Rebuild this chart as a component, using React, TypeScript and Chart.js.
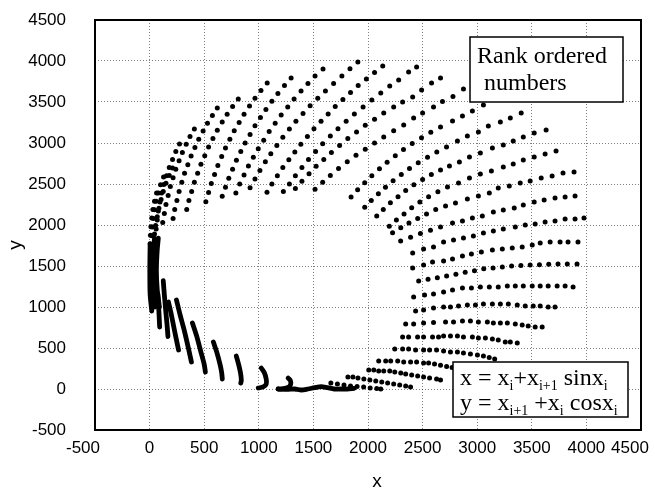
import React, { useEffect, useRef } from "react";
import { Chart, registerables } from "chart.js";
Chart.register(...registerables);

// ---- axis ticks ----
const xTickValues = [-500, 0, 500, 1000, 1500, 2000, 2500, 3000, 3500, 4000, 4500];
const yTickValues = [-500, 0, 500, 1000, 1500, 2000, 2500, 3000, 3500, 4000, 4500];

// ---- right-hand / lower rows of dots ----
const rowR1 = [[2299,1805],[2390,1850],[2480,1895],[2572,1937],[2664,1976],[2774,2024],[2865,2049],[2956,2085],[3047,2110],[3148,2159],[3239,2183],[3339,2208],[3422,2244],[3522,2280],[3613,2305],[3713,2329],[3805,2342],[3896,2354]];
const rowR2 = [[2409,1658],[2509,1707],[2600,1732],[2692,1793],[2783,1817],[2874,1841],[2965,1866],[3057,1902],[3148,1927],[3239,1951],[3349,1976],[3440,2000],[3531,2012],[3622,2037],[3713,2049],[3805,2073],[3896,2073],[3978,2085]];
const rowR3 = [[2409,1475],[2509,1512],[2591,1549],[2692,1561],[2774,1585],[2865,1622],[2947,1646],[3038,1671],[3139,1695],[3230,1707],[3321,1720],[3412,1732],[3504,1756],[3577,1780],[3668,1793],[3759,1793],[3832,1793],[3923,1793]];
const rowR4 = [[2464,1317],[2550,1338],[2635,1358],[2720,1378],[2805,1400],[2890,1425],[2975,1442],[3060,1466],[3145,1476],[3230,1488],[3315,1500],[3400,1505],[3485,1512],[3570,1515],[3655,1520],[3740,1524],[3825,1524],[3914,1524]];
const rowR5 = [[2418,1122],[2518,1146],[2600,1159],[2692,1183],[2774,1207],[2865,1232],[2947,1232],[3029,1244],[3111,1244],[3193,1244],[3276,1256],[3349,1256],[3422,1256],[3504,1256],[3577,1256],[3650,1256],[3732,1256],[3805,1256],[3878,1244]];
const rowR6 = [[2436,951],[2509,963],[2600,988],[2692,1000],[2755,1000],[2829,1012],[2910,1024],[2984,1024],[3057,1037],[3139,1037],[3212,1037],[3285,1037],[3367,1024],[3440,1012],[3513,1012],[3577,1012],[3650,1000],[3713,1000]];
const rowR7 = [[2345,793],[2418,793],[2509,805],[2600,810],[2710,817],[2783,817],[2865,829],[2938,829],[3011,817],[3093,817],[3148,805],[3212,805],[3276,805],[3349,793],[3412,780],[3467,768],[3531,756],[3595,756]];
const rowR8 = [[2317,634],[2372,634],[2454,634],[2509,634],[2591,634],[2646,634],[2692,646],[2755,646],[2819,646],[2874,634],[2956,634],[3011,622],[3075,622],[3139,610],[3193,598],[3257,573],[3303,573],[3367,561]];
const rowR9 = [[2245,488],[2317,488],[2372,488],[2436,476],[2509,476],[2564,476],[2628,476],[2692,463],[2755,451],[2819,451],[2874,439],[2938,427],[3002,415],[3057,402],[3110,385],[3160,366]];
const rowR10 = [[2098,341],[2162,341],[2208,341],[2272,341],[2327,329],[2390,329],[2445,329],[2509,317],[2555,317],[2609,305],[2664,290],[2720,275],[2770,262]];
const rowR11 = [[2007,232],[2053,232],[2098,220],[2144,220],[2199,220],[2245,207],[2300,195],[2345,183],[2400,171],[2455,159],[2509,146],[2564,134],[2628,122],[2664,110]];
const rowR12 = [[1816,146],[1862,146],[1908,134],[1962,122],[2017,110],[2071,98],[2126,85],[2180,73],[2235,61],[2290,49],[2345,37],[2390,24]];
const rowR13 = [[1660,73],[1720,61],[1780,49],[1840,37],[1900,30],[1960,24],[2020,12],[2080,5],[2117,0]];

// ---- upper fan rows ----
const rowU1 = [[2225,1905],[2300,1965],[2375,2025],[2455,2080],[2536,2134],[2620,2190],[2710,2232],[2801,2268],[2910,2317],[3011,2354],[3111,2390],[3193,2451],[3294,2476],[3394,2512],[3485,2537],[3586,2573],[3686,2598],[3786,2634],[3887,2646]];
const rowU2 = [[2195,1985],[2260,2060],[2330,2135],[2400,2210],[2475,2280],[2555,2345],[2640,2405],[2728,2463],[2829,2512],[2929,2573],[3029,2622],[3130,2659],[3239,2707],[3330,2744],[3422,2793],[3522,2829],[3622,2866],[3722,2903]];
const rowU3 = [[2080,2110],[2140,2190],[2205,2270],[2275,2345],[2345,2420],[2420,2490],[2500,2555],[2580,2615],[2664,2671],[2746,2719],[2837,2768],[2929,2829],[3029,2878],[3139,2939],[3239,2976],[3330,3024],[3422,3073],[3522,3122],[3631,3158]];
const rowU4 = [[1970,2215],[2030,2300],[2095,2380],[2160,2460],[2230,2540],[2305,2615],[2380,2690],[2460,2760],[2545,2825],[2630,2890],[2719,2951],[2819,3024],[2910,3085],[3011,3134],[3102,3207],[3212,3256],[3303,3305],[3403,3366]];
const rowU5 = [[1845,2340],[1905,2430],[1970,2515],[2035,2600],[2105,2685],[2175,2765],[2250,2845],[2325,2920],[2405,2995],[2490,3065],[2575,3130],[2664,3195],[2774,3268],[2865,3329],[2956,3390],[3057,3463]];
const rowU6 = [[1515,2435],[1585,2520],[1655,2605],[1730,2690],[1810,2770],[1890,2850],[1975,2925],[2060,3000],[2144,3073],[2235,3150],[2327,3220],[2418,3305],[2500,3366],[2600,3439],[2682,3505],[2778,3567],[2874,3659]];
const rowU7 = [[1335,2445],[1395,2535],[1460,2625],[1525,2715],[1595,2800],[1665,2885],[1740,2970],[1815,3055],[1895,3135],[1975,3215],[2060,3290],[2144,3366],[2235,3439],[2317,3500],[2409,3561],[2491,3646],[2582,3732],[2664,3793]];
const rowU8 = [[1225,2410],[1280,2500],[1335,2600],[1395,2700],[1455,2800],[1520,2895],[1585,2990],[1655,3085],[1725,3175],[1800,3265],[1875,3355],[1955,3440],[2035,3525],[2117,3610],[2199,3695],[2281,3768],[2372,3866],[2445,3927]];
const rowU9 = [[1075,2400],[1120,2500],[1170,2600],[1220,2700],[1275,2795],[1330,2890],[1385,2985],[1445,3080],[1505,3175],[1570,3265],[1635,3355],[1700,3445],[1770,3530],[1840,3615],[1910,3700],[1985,3780],[2060,3860],[2135,3939]];
const rowU10 = [[920,2455],[965,2560],[1010,2665],[1060,2770],[1110,2870],[1165,2970],[1220,3070],[1280,3170],[1340,3265],[1405,3360],[1470,3455],[1540,3545],[1610,3635],[1685,3725],[1761,3817],[1835,3905],[1907,3988]];
const rowU11 = [[790,2390],[825,2500],[865,2610],[905,2720],[950,2825],[995,2930],[1045,3035],[1095,3140],[1150,3240],[1205,3340],[1265,3440],[1323,3537],[1387,3634],[1450,3725],[1515,3817],[1588,3902]];
const rowU12 = [[665,2350],[695,2460],[725,2570],[760,2680],[795,2790],[835,2895],[875,3000],[920,3105],[965,3210],[1015,3310],[1065,3410],[1120,3510],[1175,3605],[1235,3700],[1296,3793]];
const rowU13 = [[515,2285],[540,2395],[565,2505],[595,2615],[625,2725],[660,2835],[695,2940],[735,3045],[775,3150],[820,3250],[865,3350],[915,3450],[965,3545],[1020,3640],[1077,3732]];
const rowU14 = [[340,2190],[360,2300],[385,2410],[410,2520],[440,2630],[470,2740],[505,2845],[540,2950],[580,3055],[620,3155],[665,3255],[710,3350],[760,3445],[812,3537]];
const rowU15 = [[215,2080],[230,2190],[250,2300],[270,2410],[295,2520],[320,2630],[350,2735],[380,2840],[415,2945],[450,3045],[490,3145],[530,3240],[575,3335],[620,3427]];
const rowU16 = [[120,2030],[135,2140],[150,2250],[170,2360],[190,2470],[215,2575],[240,2680],[270,2785],[300,2885],[335,2985],[370,3080],[410,3171]];
const rowU17 = [[60,1950],[70,2060],[80,2170],[95,2280],[110,2390],[130,2495],[155,2600],[180,2700],[210,2800],[240,2895],[274,2988]];
const rowU18 = [[45,1890],[55,1995],[70,2100],[85,2205],[105,2310],[125,2410],[150,2510],[180,2605],[210,2695]];
const rowU19 = [[20,1870],[25,1975],[35,2080],[45,2185],[60,2290],[80,2390],[100,2490],[128,2585]];
const rowU20 = [[5,1770],[8,1875],[12,1980],[20,2085],[30,2190],[45,2290],[64,2390]];

// ---- dense streaks (overlapping dots) near the origin ----
const streakLeft1 = [[20,950],[5,1150],[2,1400],[3,1600],[5,1770]];
const streakLeft2 = [[50,1000],[32,1240],[28,1450],[35,1660],[45,1840]];
const streakLeft3 = [[90,1000],[70,1210],[62,1450],[70,1700],[80,1840]];
const streakS0 = [[75,1160],[85,950],[92,756]];
const streakS1 = [[125,1320],[135,1150],[148,950],[160,780],[168,640]];
const streakS2 = [[173,1061],[200,900],[230,700],[265,476]];
const streakS3 = [[246,1085],[280,900],[320,700],[355,500],[383,329]];
const streakS4 = [[392,805],[430,650],[470,450],[500,300],[511,207]];
const streakS5 = [[584,573],[615,450],[645,300],[660,200],[666,122]];
const streakS6 = [[794,402],[815,300],[832,200],[840,110],[835,73]];
const streakS7 = [[1022,256],[1050,200],[1068,120],[1068,60],[1040,25],[995,12]];
const streakS8 = [[1268,134],[1290,100],[1290,50],[1260,15],[1210,0],[1177,0]];
const streakBand = [[1177,0],[1260,-5],[1330,0],[1390,-12],[1450,0],[1510,16],[1570,30],[1630,16],[1690,0],[1750,0],[1810,0],[1874,8]];

const dotRows = [rowR1,rowR2,rowR3,rowR4,rowR5,rowR6,rowR7,rowR8,rowR9,rowR10,rowR11,rowR12,rowR13,
  rowU1,rowU2,rowU3,rowU4,rowU5,rowU6,rowU7,rowU8,rowU9,rowU10,rowU11,rowU12,rowU13,rowU14,rowU15,rowU16,rowU17,rowU18,rowU19,rowU20];
const streaks = [streakLeft1,streakLeft2,streakLeft3,streakS0,streakS1,streakS2,streakS3,streakS4,streakS5,streakS6,streakS7,streakS8,streakBand];

const legendLines = ["Rank ordered", " numbers"];

const toPts = (a: number[][]) => a.map(([x, y]) => ({ x, y }));

const SANS = '"Liberation Sans", Arial, sans-serif';
const SERIF = '"Liberation Serif", "Times New Roman", serif';

function drawSubText(ctx: CanvasRenderingContext2D, parts: [string, boolean][], x: number, y: number) {
  let cx = x;
  for (const [t, sub] of parts) {
    ctx.font = sub ? `14px ${SERIF}` : `24px ${SERIF}`;
    ctx.fillText(t, cx, sub ? y + 5 : y);
    cx += ctx.measureText(t).width;
  }
}

const overlay = {
  id: "overlay",
  afterDatasetsDraw(chart: any) {
    const { ctx, chartArea: a } = chart;
    ctx.save();
    ctx.strokeStyle = "#000";
    ctx.lineWidth = 2;
    ctx.strokeRect(a.left, a.top, a.right - a.left, a.bottom - a.top);
    // x tick labels (end labels nudged inward as in the reference)
    const xs = chart.scales.x;
    ctx.fillStyle = "#000";
    ctx.font = `17px ${SANS}`;
    ctx.textAlign = "center";
    ctx.textBaseline = "middle";
    xTickValues.forEach((v, i) => {
      let px = xs.getPixelForValue(v);
      if (i === 0) px -= 12;
      if (i === xTickValues.length - 1) px -= 11;
      ctx.fillText(String(v), px, 448);
    });
    // Rank ordered box
    ctx.fillStyle = "#fff";
    ctx.fillRect(470, 37, 153, 65);
    ctx.lineWidth = 1.5;
    ctx.strokeRect(470, 37, 153, 65);
    ctx.fillStyle = "#000";
    ctx.textBaseline = "alphabetic";
    ctx.textAlign = "left";
    ctx.font = `24px ${SERIF}`;
    ctx.fillText(legendLines[0], 477, 63);
    ctx.fillText(legendLines[1], 478, 90);
    // formula box
    ctx.fillStyle = "#fff";
    ctx.fillRect(453, 362, 175, 55);
    ctx.strokeRect(453, 362, 175, 55);
    ctx.fillStyle = "#000";
    drawSubText(ctx, [["x = x", false], ["i", true], ["+x", false], ["i+1", true], [" sinx", false], ["i", true]], 460, 385);
    drawSubText(ctx, [["y = x", false], ["i+1", true], [" +x", false], ["i", true], [" cosx", false], ["i", true]], 460, 410);
    // axis titles
    ctx.font = `19px ${SANS}`;
    ctx.textAlign = "center";
    ctx.textBaseline = "middle";
    ctx.fillText("x", (a.left + a.right) / 2 + 9, 482);
    ctx.translate(16, 245);
    ctx.rotate(-Math.PI / 2);
    ctx.fillText("y", 0, 0);
    ctx.restore();
  },
};

export default function App() {
  const ref = useRef<HTMLCanvasElement>(null);
  useEffect(() => {
    if (!ref.current) return;
    const dotData = toPts(dotRows.flat());
    const datasets: any[] = [
      {
        data: dotData,
        pointRadius: 2.5,
        pointBackgroundColor: "#000",
        pointBorderWidth: 0,
        showLine: false,
      },
      ...streaks.map((s) => ({
        data: toPts(s),
        showLine: true,
        borderColor: "#000",
        borderWidth: 4.8,
        borderCapStyle: "round",
        borderJoinStyle: "round",
        pointRadius: 0,
        tension: 0.3,
      })),
    ];
    const tickFont = { family: SANS, size: 17 };
    const fmt = (v: any) => String(v);
    const chart = new Chart(ref.current, {
      type: "scatter",
      data: { datasets },
      options: {
        animation: false,
        responsive: false,
        devicePixelRatio: 1,
        events: [],
        layout: { padding: { left: 0, right: 14, top: 20, bottom: 0 } },
        plugins: { legend: { display: false }, tooltip: { enabled: false } },
        scales: {
          x: {
            type: "linear",
            min: -500,
            max: 4500,
            afterBuildTicks: (s: any) => { s.ticks = xTickValues.map((v) => ({ value: v })); },
            afterFit: (s: any) => { s.height = 65; s.paddingLeft = 0; s.paddingRight = 0; },
            ticks: { display: false, color: "#000", font: tickFont, padding: 7, maxRotation: 0, autoSkip: false, callback: fmt },
            grid: { color: "rgba(0,0,0,0.5)", lineWidth: 1, drawTicks: false },
            border: { display: false, dash: [1, 2] },
          },
          y: {
            type: "linear",
            min: -500,
            max: 4500,
            afterBuildTicks: (s: any) => { s.ticks = yTickValues.map((v) => ({ value: v })); },
            afterFit: (s: any) => { s.width = 95; s.paddingTop = 0; s.paddingBottom = 0; },
            ticks: { color: "#000", font: tickFont, padding: 29, autoSkip: false, callback: fmt },
            grid: { color: "rgba(0,0,0,0.5)", lineWidth: 1, drawTicks: false },
            border: { display: false, dash: [1, 2] },
          },
        },
      },
      plugins: [overlay],
    } as any);
    return () => chart.destroy();
  }, []);
  return (
    <div style={{ position: "fixed", left: 0, top: 0, width: 655, height: 495, background: "#fff" }}>
      <canvas ref={ref} width={655} height={495} />
    </div>
  );
}
